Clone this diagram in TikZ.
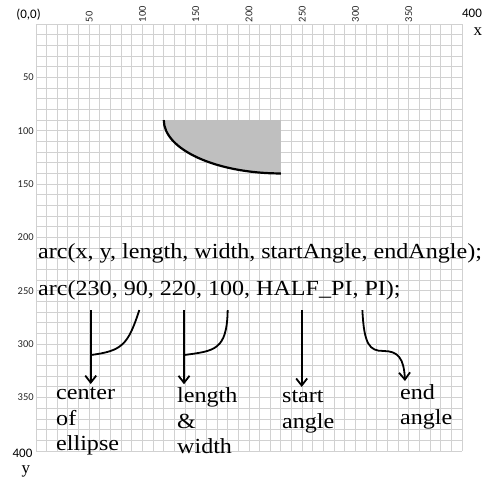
\documentclass[tikz,border=0pt]{standalone}
\usepackage{fontspec}
\setmainfont{Liberation Serif}
\newfontfamily\codefont{Liberation Serif}[FakeStretch=1.12]
\newfontfamily\calfont{Carlito}
\usetikzlibrary{arrows.meta}

\begin{document}
\begin{tikzpicture}[x=1.065pt, y=-1.0675pt,
  gridline/.style={draw=black!18, line width=0.9pt},
  tick/.style={font=\calfont\fontsize{10.5}{12}\selectfont, inner sep=0pt, text=black!85},
  corner/.style={font=\calfont\fontsize{13}{15}\selectfont, inner sep=0pt},
  axis/.style={font=\fontsize{17}{19}\selectfont, inner sep=0pt, anchor=base},
  code/.style={font=\codefont\fontsize{21.5}{25}\selectfont, inner sep=0pt, anchor=base west},
  lbl/.style={font=\codefont\fontsize{21.5}{25.8}\selectfont, align=left, inner xsep=0pt, inner ysep=3pt, anchor=base west},
  arr/.style={line width=1.8pt, -{Straight Barb[length=7pt, width=11pt]}},
  lnk/.style={line width=1.8pt}]
\useasboundingbox (-33.8,-22.5) rectangle (425.4,425.3);
\foreach \v in {0,10,...,400} {
  \draw[gridline] (\v,0) -- (\v,400);
  \draw[gridline] (0,\v) -- (400,\v);
}
\foreach \v in {50,100,...,350} {
  \node[tick, rotate=90, anchor=west] at (\v,-1.5) {\v};
  \node[tick, anchor=east] at (-2,\v) {\v};
}
\node[corner] (orig) at (-7,-8.4) {(0,0)};
\node[corner] (xmax) at (409.4,-10.3) {400};
\node[corner] (ymax) at (-12.7,402.3) {400};
\node[axis] (xlab) at (415,10.3) {x};
\node[axis] (ylab) at (-9.4,420.8) {y};

\fill[black!25] (230,90) -- (230,140) arc[start angle=90, end angle=180, x radius=110, y radius=50] -- cycle;
\draw[line width=2.2pt] (230,140) arc[start angle=90, end angle=180, x radius=110, y radius=50];

\node[code] (sig) at (1.9,220.1) {arc(x, y, length, width, startAngle, endAngle);};
\node[code] (call) at (1.9,253.9) {arc(230, 90, 220, 100, HALF\_PI, PI);};

\node[lbl] (centre) at (18.8,400) {center\\of\\ellipse};
\node[lbl] (lenwid) at (132.4,402.8) {length\\\&\\width};
\node[lbl] (startang) at (231,378.5) {start\\angle};
\node[lbl] (endang) at (341.8,375.6) {end\\angle};

\coordinate (p230) at (51.4,268);
\coordinate (p90) at (97,268);
\coordinate (p220) at (139,268);
\coordinate (p100) at (180,268);
\coordinate (phalf) at (249.5,268);
\coordinate (ppi) at (306.5,268);
\coordinate (j1) at (51.4,310.1);
\coordinate (j2) at (139,310.1);

\draw[arr] (p230) -- (p230 |- centre.north);
\draw[lnk] (p90) .. controls (86.4,300.7) and (80.8,306.3) .. (j1);
\draw[arr] (p220) -- (p220 |- lenwid.north);
\draw[lnk] (p100) .. controls (179.3,305.4) and (168.1,306.3) .. (j2);
\draw[arr] (phalf) -- (phalf |- startang.north);
\draw[arr] (ppi) .. controls (308,300.7) and (313.5,306.3) .. (326,306.3)
  .. controls (339.9,306.3) and (345.5,312.9) .. ([xshift=5pt]endang.north west);
\end{tikzpicture}
\end{document}
